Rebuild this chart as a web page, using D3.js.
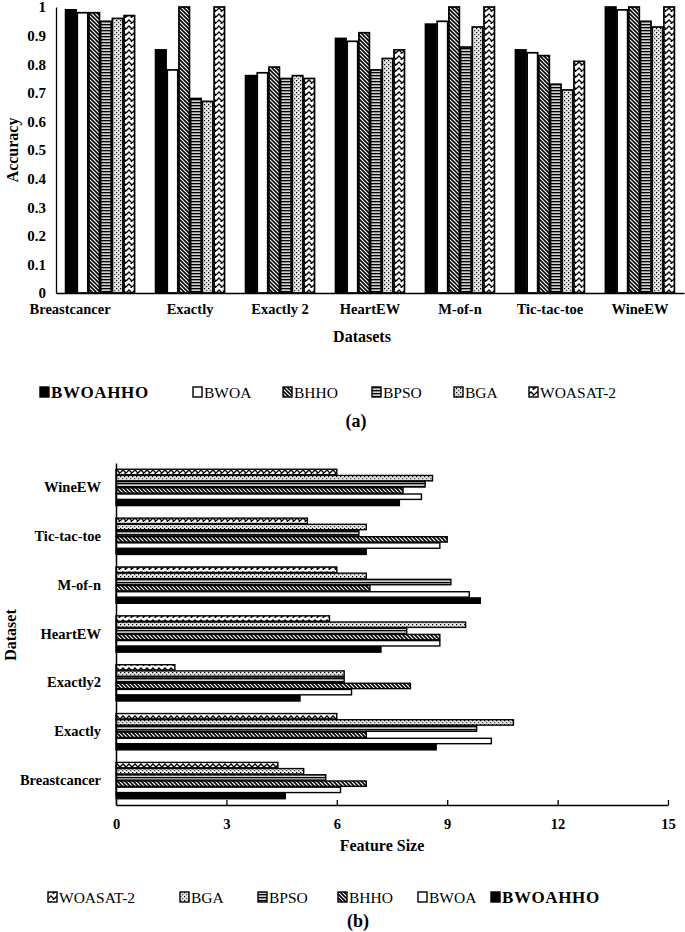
<!DOCTYPE html>
<html>
<head>
<meta charset="utf-8">
<script src="https://cdn.jsdelivr.net/npm/d3@7"></script>
<style>
  html, body { margin: 0; padding: 0; background: #fff; }
  svg { display: block; }
  text { font-family: "Liberation Serif", "Times New Roman", serif; fill: #000; }
</style>
</head>
<body>
<svg id="chart" width="685" height="932"></svg>
<script>
// ---------- DATA ----------
const algorithms = ["BWOAHHO", "BWOA", "BHHO", "BPSO", "BGA", "WOASAT-2"];

// (a) Accuracy
const datasetsA = ["Breastcancer", "Exactly", "Exactly 2", "HeartEW", "M-of-n", "Tic-tac-toe", "WineEW"];
const accBWOAHHO = [0.99, 0.85, 0.76, 0.89, 0.94, 0.85, 1.00];
const accBWOA    = [0.98, 0.78, 0.77, 0.88, 0.95, 0.84, 0.99];
const accBHHO    = [0.98, 1.00, 0.79, 0.91, 1.00, 0.83, 1.00];
const accBPSO    = [0.95, 0.68, 0.75, 0.78, 0.86, 0.73, 0.95];
const accBGA     = [0.96, 0.67, 0.76, 0.82, 0.93, 0.71, 0.93];
const accWOASAT2 = [0.97, 1.00, 0.75, 0.85, 1.00, 0.81, 1.00];
const accTicks = [0, 0.1, 0.2, 0.3, 0.4, 0.5, 0.6, 0.7, 0.8, 0.9, 1];

// (b) Feature size
const datasetsB = ["Breastcancer", "Exactly", "Exactly2", "HeartEW", "M-of-n", "Tic-tac-toe", "WineEW"];
const featBWOAHHO = [4.6, 8.7, 5.0, 7.2, 9.9, 6.8, 7.7];
const featBWOA    = [6.1, 10.2, 6.4, 8.8, 9.6, 8.8, 8.3];
const featBHHO    = [6.8, 6.8, 8.0, 8.8, 6.9, 9.0, 7.8];
const featBPSO    = [5.7, 9.8, 6.2, 7.9, 9.1, 6.6, 8.4];
const featBGA     = [5.1, 10.8, 6.2, 9.5, 6.8, 6.8, 8.6];
const featWOASAT2 = [4.4, 6.0, 1.6, 5.8, 6.0, 5.2, 6.0];
const featTicks = [0, 3, 6, 9, 12, 15];

const accSeries = [accBWOAHHO, accBWOA, accBHHO, accBPSO, accBGA, accWOASAT2];
const featSeries = [featBWOAHHO, featBWOA, featBHHO, featBPSO, featBGA, featWOASAT2];

// ---------- SETUP ----------
const svg = d3.select("#chart");
const defs = svg.append("defs");

function pat(id, w, h, build) {
  const p = defs.append("pattern").attr("id", id)
    .attr("patternUnits", "userSpaceOnUse").attr("width", w).attr("height", h);
  build(p);
}
pat("pDiag", 4, 4, p => {
  p.append("rect").attr("width", 4).attr("height", 4).attr("fill", "#fff");
  p.append("path").attr("d", "M-1,-1L5,5M-1,3L1,5M3,-1L5,1")
    .attr("stroke", "#000").attr("stroke-width", 1.6);
});
pat("pHoriz", 3, 3, p => {
  p.append("rect").attr("width", 3).attr("height", 3).attr("fill", "#d0d0d0");
  p.append("rect").attr("y", 0).attr("width", 3).attr("height", 1.3).attr("fill", "#000");
});
pat("pDots", 4, 4, p => {
  p.append("rect").attr("width", 4).attr("height", 4).attr("fill", "#e0e0e0");
  p.append("rect").attr("x", 0).attr("y", 0).attr("width", 1.2).attr("height", 1.2).attr("fill", "#000");
  p.append("rect").attr("x", 2).attr("y", 2).attr("width", 1.2).attr("height", 1.2).attr("fill", "#444");
  p.append("rect").attr("x", 2).attr("y", 0).attr("width", 1.2).attr("height", 1.2).attr("fill", "#fff");
});
pat("pWave", 6, 6, p => {
  p.append("rect").attr("width", 6).attr("height", 6).attr("fill", "#fff");
  p.append("path").attr("d", "M0,5L3,2L6,5M-3,2L0,-1M3,8L6,5")
    .attr("fill", "none").attr("stroke", "#000").attr("stroke-width", 1.4);
});

const fills = {
  "BWOAHHO": "#000",
  "BWOA": "#fff",
  "BHHO": "url(#pDiag)",
  "BPSO": "url(#pHoriz)",
  "BGA": "url(#pDots)",
  "WOASAT-2": "url(#pWave)"
};

// ---------- CHART (a) ----------
const a = { left: 56, right: 684, top: 7, bottom: 293 };
const xA = d3.scaleBand().domain(datasetsA).range([a.left, a.right]).paddingInner(0.22).paddingOuter(0.1);
const xAi = d3.scaleBand().domain(algorithms).range([0, xA.bandwidth()]);
const yA = d3.scaleLinear().domain([0, 1]).range([a.bottom, a.top]);

const gA = svg.append("g");
algorithms.forEach((alg, si) => {
  gA.append("g").selectAll("rect").data(datasetsA).join("rect")
    .attr("x", d => xA(d) + xAi(alg) + 0.6)
    .attr("y", (d, i) => yA(accSeries[si][i]))
    .attr("width", xAi.bandwidth() - 1.2)
    .attr("height", (d, i) => yA(0) - yA(accSeries[si][i]))
    .attr("fill", fills[alg])
    .attr("stroke", "#000").attr("stroke-width", 1.7);
});

const yAxisA = d3.axisLeft(yA).tickValues(accTicks).tickSize(0).tickPadding(10)
  .tickFormat(d => d3.format("")(d));
const gyA = svg.append("g").attr("transform", `translate(${a.left},0)`).call(yAxisA);
gyA.select(".domain").attr("stroke", "#000").attr("stroke-width", 1.3);
gyA.selectAll("text").attr("font-family", "Liberation Serif").attr("font-weight", "bold").attr("font-size", 15);

const xAxisA = d3.axisBottom(xA).tickSize(0).tickPadding(11);
const gxA = svg.append("g").attr("transform", `translate(0,${a.bottom})`).call(xAxisA);
gxA.select(".domain").attr("stroke", "#000").attr("stroke-width", 1.5);
gxA.selectAll("text").attr("font-family", "Liberation Serif").attr("font-weight", "bold").attr("font-size", 14.5)
  .attr("dx", (d, i) => i === 0 ? -30 : 0);

svg.append("text").attr("transform", "translate(18,150) rotate(-90)")
  .attr("text-anchor", "middle").attr("font-weight", "bold").attr("font-size", 16).text("Accuracy");
svg.append("text").attr("x", 362).attr("y", 342)
  .attr("text-anchor", "middle").attr("font-weight", "bold").attr("font-size", 16).text("Datasets");

// legend (a)
const legAx = [40, 193, 283, 372, 454, 529];
const legA = svg.append("g");
algorithms.forEach((alg, i) => {
  legA.append("rect").attr("x", legAx[i]).attr("y", 387).attr("width", 9).attr("height", 10)
    .attr("fill", fills[alg]).attr("stroke", "#000").attr("stroke-width", 1.4);
  legA.append("text").attr("x", legAx[i] + 11).attr("y", 398)
    .attr("font-size", alg === "BWOAHHO" ? 17 : 15.5)
    .attr("letter-spacing", alg === "BWOAHHO" ? 0.6 : 0)
    .attr("font-weight", alg === "BWOAHHO" ? "bold" : "normal").text(alg);
});
svg.append("text").attr("x", 356).attr("y", 427).attr("text-anchor", "middle")
  .attr("font-weight", "bold").attr("font-size", 18).text("(a)");

// ---------- CHART (b) ----------
const b = { left: 116, right: 668, top: 463, bottom: 805 };
const yB = d3.scaleBand().domain(datasetsB.slice().reverse()).range([b.top, b.bottom])
  .paddingInner(0.24).paddingOuter(0.12);
const algOrderB = algorithms.slice().reverse();
const yBi = d3.scaleBand().domain(algOrderB).range([0, yB.bandwidth()]);
const xB = d3.scaleLinear().domain([0, 15]).range([b.left, b.right]);

const gB = svg.append("g");
algorithms.forEach((alg, si) => {
  gB.append("g").selectAll("rect").data(datasetsB).join("rect")
    .attr("x", xB(0))
    .attr("y", d => yB(d) + yBi(alg) + 0.4)
    .attr("width", (d, i) => xB(featSeries[si][i]) - xB(0))
    .attr("height", yBi.bandwidth() - 0.8)
    .attr("fill", fills[alg])
    .attr("stroke", "#000").attr("stroke-width", 1.4);
});

const xAxisB = d3.axisBottom(xB).tickValues(featTicks).tickSizeInner(-5).tickSizeOuter(0).tickPadding(14);
const gxB = svg.append("g").attr("transform", `translate(0,${b.bottom})`).call(xAxisB);
gxB.select(".domain").attr("stroke", "#000").attr("stroke-width", 1.5);
gxB.selectAll(".tick line").attr("stroke", "#000").attr("stroke-width", 1.3);
gxB.selectAll("text").attr("font-family", "Liberation Serif").attr("font-weight", "bold").attr("font-size", 14.5);

const yAxisB = d3.axisLeft(yB).tickSize(0).tickPadding(15);
const gyB = svg.append("g").attr("transform", `translate(${b.left},0)`).call(yAxisB);
gyB.select(".domain").attr("stroke", "#000").attr("stroke-width", 1.5);
gyB.selectAll("text").attr("font-family", "Liberation Serif").attr("font-weight", "bold").attr("font-size", 14.5);

svg.append("text").attr("transform", "translate(16,635) rotate(-90)")
  .attr("text-anchor", "middle").attr("font-weight", "bold").attr("font-size", 16).text("Dataset");
svg.append("text").attr("x", 382).attr("y", 851)
  .attr("text-anchor", "middle").attr("font-weight", "bold").attr("font-size", 16).text("Feature Size");

// legend (b)
const legBx = [48, 180, 258, 338, 418, 491];
const legB = svg.append("g");
algOrderB.forEach((alg, i) => {
  legB.append("rect").attr("x", legBx[i]).attr("y", 892).attr("width", 9).attr("height", 10)
    .attr("fill", fills[alg]).attr("stroke", "#000").attr("stroke-width", 1.4);
  legB.append("text").attr("x", legBx[i] + 11).attr("y", 903)
    .attr("font-size", alg === "BWOAHHO" ? 17 : 15.5)
    .attr("letter-spacing", alg === "BWOAHHO" ? 0.6 : 0)
    .attr("font-weight", alg === "BWOAHHO" ? "bold" : "normal").text(alg);
});
svg.append("text").attr("x", 358).attr("y", 927).attr("text-anchor", "middle")
  .attr("font-weight", "bold").attr("font-size", 18).text("(b)");
</script>
</body>
</html>
